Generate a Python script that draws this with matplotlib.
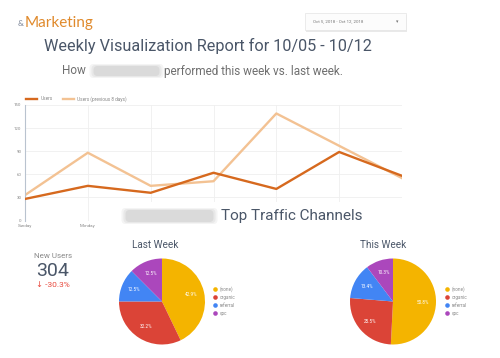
import numpy as np
import matplotlib
matplotlib.use("Agg")
import matplotlib.pyplot as plt
from matplotlib.patches import Rectangle, FancyBboxPatch

plt.rcParams['font.family'] = ['Roboto', 'DejaVu Sans']

days = ["Sunday", "Monday", "Tuesday", "Wednesday", "Thursday", "Friday", "Saturday"]
users = [28, 45, 36, 62, 41, 89, 58]
users_prev = [33, 88, 45, 51, 139, 97, 55]

channels = ["(none)", "organic", "referral", "cpc"]
last_week = [42.9, 32.2, 12.5, 12.5]
this_week = [50.8, 25.5, 13.4, 10.3]
channel_colors = ["#F4B400", "#DB4437", "#4285F4", "#AB47BC"]

new_users = 304
new_users_change = -30.3

W, H = 500, 358
fig = plt.figure(figsize=(W / 100, H / 100), dpi=100)
fig.patch.set_facecolor("white")

def fx(x):
    return x / W

def fy(y):
    return 1 - y / H

title_col = "#4a5668"

# weekly line chart
ax = fig.add_axes([fx(25), fy(220.5), fx(402 - 25), (220.5 - 105) / H])
ax.set_zorder(0)
x = np.arange(len(days))
ax.plot(x, users, color="#D6691E", lw=1.7, label="Users", zorder=3)
ax.plot(x, users_prev, color="#F3C293", lw=1.7, label="Users (previous 8 days)", zorder=2)
ax.set_xlim(0, len(days) - 1)
ax.set_ylim(0, 150)
ax.set_yticks(range(0, 151, 30))
ax.set_xticks(x)
ax.set_xticklabels(days)
ax.tick_params(length=0, labelsize=3.2, colors="#888888", pad=2.5)
ax.grid(True, color="#efefef", lw=0.6)
for s in ["top", "right", "bottom"]:
    ax.spines[s].set_visible(False)
ax.spines["left"].set_color("#b9c3cf")
ax.spines["left"].set_linewidth(0.8)
ax.legend(loc="lower left", bbox_to_anchor=(-0.005, 1.0), ncol=2, frameon=False,
          fontsize=3.4, handlelength=2.2, columnspacing=2.2, borderaxespad=0.3,
          labelcolor="#888888")

# overlay in pixel coords for texts and boxes
ov = fig.add_axes([0, 0, 1, 1])
ov.set_zorder(1)
ov.set_xlim(0, W)
ov.set_ylim(H, 0)
ov.axis("off")
ov.patch.set_visible(False)

def blur(x0, x1, yc, h):
    # soft grey smudge where the site name was blurred
    for k, a in zip([0, 2, 4], [0.15, 0.2, 0.28]):
        ov.add_patch(FancyBboxPatch((x0 + k, yc - h / 2 + k / 2), x1 - x0 - 2 * k, h - k,
                                    boxstyle="round,pad=1.5,rounding_size=4",
                                    fc="#b8b8b8", ec="none", alpha=a, zorder=6))

ov.text(18, 26, "&", fontsize=6, color="#7a8496", ha="left", va="baseline", family="Lato")
ov.text(25, 27, "Marketing", fontsize=11, color="#E08A2C", ha="left", va="baseline", family="Lato")

ov.add_patch(Rectangle((306, 15), 101, 17, fc="#e9e9e9", ec="none", zorder=1))
ov.add_patch(Rectangle((305, 13), 101, 17, fc="#fcfcfc", ec="#e4e4e4", lw=0.5, zorder=2))
ov.text(313, 21.5, "Oct 5, 2018 - Oct 12, 2018", fontsize=3.2, color="#777777", va="center")
ov.text(397, 21.5, "\u25be", fontsize=3.5, color="#777777", va="center", ha="center",
        family=["DejaVu Sans"])

ov.text(208, 46, "Weekly Visualization Report for 10/05 - 10/12", fontsize=11.7,
        color=title_col, ha="center", va="center")
ov.text(86, 71, "How", fontsize=8.5, color="#6f6f6f", ha="right", va="center")
blur(91, 162, 71, 11)
ov.text(164, 71, "performed this week vs. last week.", fontsize=8.5, color="#6f6f6f",
        ha="left", va="center")

# white band that hides the bottom of the line chart
ov.add_patch(Rectangle((112, 202), 310, 30, fc="white", ec="none", zorder=3))
blur(123, 216, 216, 13)
ov.text(221, 216, "Top Traffic Channels", fontsize=11, color=title_col,
        ha="left", va="center", zorder=7)

ov.text(155, 245, "Last Week", fontsize=7.2, color=title_col, ha="center", va="center")
ov.text(383, 245, "This Week", fontsize=7.2, color=title_col, ha="center", va="center")

ov.text(53, 256, "New Users", fontsize=5.8, color="#8a8a8a", ha="center", va="center")
ov.text(53, 270.5, str(new_users), fontsize=14, color=title_col, ha="center", va="center")
ov.text(53, 285, "\u2193 %.1f%%" % new_users_change, fontsize=6, color="#E8473B",
        ha="center", va="center")

# pie legends
for lx in [215, 447]:
    for i, (name, col) in enumerate(zip(channels, channel_colors)):
        yy = 289.3 + 8 * i
        ov.plot(lx, yy, "o", color=col, ms=3.3, mec="none")
        ov.text(lx + 5, yy, name, fontsize=3.3, color="#888888", va="center")

# pies
for cx, vals in [(162, last_week), (393, this_week)]:
    r = 43
    pax = fig.add_axes([fx(cx - r), fy(301.5 + r), 2 * r / W, 2 * r / H])
    pax.set_zorder(2)
    pax.pie(vals, colors=channel_colors, startangle=90, counterclock=False,
            autopct="%.1f%%", pctdistance=0.7,
            textprops=dict(color="white", fontsize=3.3))
    pax.set_xlim(-1, 1)
    pax.set_ylim(-1, 1)

fig.savefig("out.png", dpi=100)
